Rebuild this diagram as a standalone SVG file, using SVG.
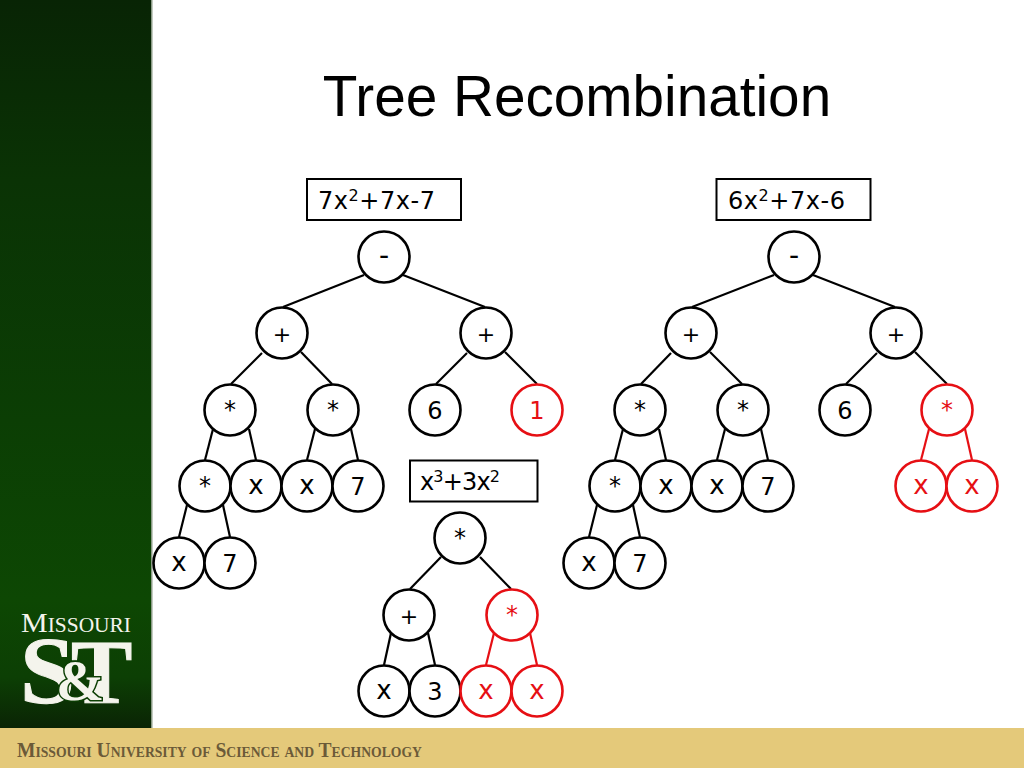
<svg xmlns="http://www.w3.org/2000/svg" width="1024" height="768" viewBox="0 0 1024 768">
<style>
.n circle{fill:#fff;stroke:#000;stroke-width:2.6}
.n text{font:24px "DejaVu Sans",sans-serif;text-anchor:middle;fill:#000}
.n text.v{font-size:26px}
.n text.p{font-size:22px}
.n text.m{font-size:28px}
.r circle{stroke:#e60f14}
.r text{fill:#e60f14}
.c line{stroke:#000;stroke-width:2.2}
.c line.r{stroke:#e60f14}
.b rect{fill:#fff;stroke:#000;stroke-width:2}
.b text{font:24px "DejaVu Sans",sans-serif;fill:#000}
.b tspan{font-size:16px}
.l{font-family:"Liberation Serif",serif;fill:#f4f4ec}
.lb{stroke:#f4f4ec;stroke-width:1}
</style>
<defs>
<linearGradient id="g" x1="0" y1="0" x2="0" y2="1">
<stop offset="0" stop-color="#082405"/><stop offset=".3" stop-color="#0a3305"/><stop offset=".7" stop-color="#0b3e04"/><stop offset="1" stop-color="#0d4703"/>
</linearGradient>
<linearGradient id="f" x1="0" y1="0" x2="0" y2="1">
<stop offset="0" stop-color="#0d4703"/><stop offset=".6" stop-color="#0c3f04"/><stop offset="1" stop-color="#0a2405"/>
</linearGradient>
</defs>
<rect width="1024" height="768" fill="#fff"/>
<rect width="152" height="600" fill="url(#g)"/>
<rect y="600" width="152" height="128" fill="url(#f)"/>
<rect x="151" width="1.5" height="728" fill="#8a9a85"/>
<rect y="728" width="1024" height="40" fill="#e4c97a"/>
<text class="l" x="21" y="632" font-size="28" textLength="110" lengthAdjust="spacingAndGlyphs" style="font-variant:small-caps">Missouri</text>
<text class="l lb" x="20" y="703" font-size="96" font-weight="700" textLength="55" lengthAdjust="spacingAndGlyphs">S</text>
<text class="l lb" x="71" y="703" font-size="92" font-weight="700">T</text>
<text class="l" x="56" y="700" font-size="58" font-weight="700" stroke="#0c3f04" stroke-width="3" paint-order="stroke">&amp;</text>
<text x="17" y="757" font-family="Liberation Serif,serif" font-weight="700" font-size="20" fill="#6b5a38" textLength="405" lengthAdjust="spacingAndGlyphs" style="font-variant:small-caps">Missouri University of Science and Technology</text>
<text x="577" y="116" font-family="Liberation Sans,sans-serif" font-size="56.7" text-anchor="middle" fill="#000">Tree Recombination</text>
<g id="connectors" class="c">
<line x1="364" y1="275" x2="283" y2="307"/><line x1="403" y1="275" x2="485" y2="307"/>
<line x1="262" y1="353" x2="231" y2="384"/><line x1="301" y1="352" x2="332" y2="384"/>
<line x1="467" y1="353" x2="436" y2="384"/><line x1="505" y1="352" x2="537" y2="384"/>
<line x1="213" y1="429" x2="205" y2="460"/><line x1="249" y1="429" x2="256" y2="460"/>
<line x1="315" y1="429" x2="307" y2="460"/><line x1="351" y1="429" x2="358" y2="460"/>
<line x1="187" y1="505" x2="179" y2="537"/><line x1="223" y1="505" x2="230" y2="537"/>
<line x1="774" y1="275" x2="692" y2="307"/><line x1="813" y1="275" x2="895" y2="307"/>
<line x1="671" y1="353" x2="641" y2="384"/><line x1="710" y1="352" x2="742" y2="384"/>
<line x1="877" y1="353" x2="846" y2="384"/><line x1="915" y1="352" x2="947" y2="384"/>
<line x1="623" y1="429" x2="615" y2="460"/><line x1="659" y1="429" x2="666" y2="460"/>
<line x1="725" y1="429" x2="717" y2="460"/><line x1="761" y1="429" x2="768" y2="460"/>
<line x1="597" y1="505" x2="589" y2="537"/><line x1="633" y1="505" x2="640" y2="537"/>
<line class="r" x1="929" y1="429" x2="921" y2="460"/><line class="r" x1="965" y1="429" x2="972" y2="460"/>
<line x1="441" y1="557" x2="410" y2="589"/><line x1="480" y1="557" x2="511" y2="589"/>
<line x1="391" y1="633" x2="384" y2="665"/><line x1="428" y1="633" x2="435" y2="665"/>
<line class="r" x1="494" y1="633" x2="486" y2="665"/><line class="r" x1="530" y1="633" x2="537" y2="665"/>
</g>
<g id="box1" class="b"><rect x="307" y="179" width="154" height="41"/><text x="318" y="209" textLength="117">7x<tspan dy="-8">2</tspan><tspan dy="8" style="font-size:24px">+7x-7</tspan></text></g>
<g id="box2" class="b"><rect x="716.5" y="179" width="154" height="41"/><text x="728" y="209" textLength="117">6x<tspan dy="-8">2</tspan><tspan dy="8" style="font-size:24px">+7x-6</tspan></text></g>
<g id="box3" class="b"><rect x="410" y="460.5" width="127.5" height="41"/><text x="420" y="490" textLength="80">x<tspan dy="-8">3</tspan><tspan dy="8" style="font-size:24px">+3x</tspan><tspan dy="-8">2</tspan></text></g>
<g id="a1" class="n"><circle cx="384" cy="257" r="25.5"/><text class="m" x="384" y="264.5">-</text></g>
<g id="a2" class="n"><circle cx="282" cy="333" r="25.5"/><text class="p" x="282" y="342">+</text></g>
<g id="a3" class="n"><circle cx="486" cy="333" r="25.5"/><text class="p" x="486" y="342">+</text></g>
<g id="a4" class="n"><circle cx="230" cy="410" r="25.5"/><text x="230" y="418">*</text></g>
<g id="a5" class="n"><circle cx="333" cy="410" r="25.5"/><text x="333" y="418">*</text></g>
<g id="a6" class="n"><circle cx="435" cy="410" r="25.5"/><text x="435" y="419">6</text></g>
<g id="a7" class="n r"><circle cx="537" cy="410" r="25.5"/><text x="537" y="419">1</text></g>
<g id="a8" class="n"><circle cx="205" cy="486" r="25.5"/><text x="205" y="494">*</text></g>
<g id="a9" class="n"><circle cx="256" cy="486" r="25.5"/><text class="v" x="256" y="494">x</text></g>
<g id="a10" class="n"><circle cx="307" cy="486" r="25.5"/><text class="v" x="307" y="494">x</text></g>
<g id="a11" class="n"><circle cx="358" cy="486" r="25.5"/><text x="358" y="495">7</text></g>
<g id="a12" class="n"><circle cx="179" cy="563" r="25.5"/><text class="v" x="179" y="571">x</text></g>
<g id="a13" class="n"><circle cx="230" cy="563" r="25.5"/><text x="230" y="572">7</text></g>
<g id="b1" class="n"><circle cx="794" cy="257" r="25.5"/><text class="m" x="794" y="264.5">-</text></g>
<g id="b2" class="n"><circle cx="691" cy="333" r="25.5"/><text class="p" x="691" y="342">+</text></g>
<g id="b3" class="n"><circle cx="896" cy="333" r="25.5"/><text class="p" x="896" y="342">+</text></g>
<g id="b4" class="n"><circle cx="640" cy="410" r="25.5"/><text x="640" y="418">*</text></g>
<g id="b5" class="n"><circle cx="743" cy="410" r="25.5"/><text x="743" y="418">*</text></g>
<g id="b6" class="n"><circle cx="845" cy="410" r="25.5"/><text x="845" y="419">6</text></g>
<g id="b7" class="n r"><circle cx="947" cy="410" r="25.5"/><text x="947" y="418">*</text></g>
<g id="b8" class="n"><circle cx="615" cy="486" r="25.5"/><text x="615" y="494">*</text></g>
<g id="b9" class="n"><circle cx="666" cy="486" r="25.5"/><text class="v" x="666" y="494">x</text></g>
<g id="b10" class="n"><circle cx="717" cy="486" r="25.5"/><text class="v" x="717" y="494">x</text></g>
<g id="b11" class="n"><circle cx="768" cy="486" r="25.5"/><text x="768" y="495">7</text></g>
<g id="b12" class="n"><circle cx="589" cy="563" r="25.5"/><text class="v" x="589" y="571">x</text></g>
<g id="b13" class="n"><circle cx="640" cy="563" r="25.5"/><text x="640" y="572">7</text></g>
<g id="b14" class="n r"><circle cx="921" cy="486" r="25.5"/><text class="v" x="921" y="494">x</text></g>
<g id="b15" class="n r"><circle cx="972" cy="486" r="25.5"/><text class="v" x="972" y="494">x</text></g>
<g id="c1" class="n"><circle cx="460" cy="538" r="25.5"/><text x="460" y="546">*</text></g>
<g id="c2" class="n"><circle cx="409" cy="615" r="25.5"/><text class="p" x="409" y="624">+</text></g>
<g id="c3" class="n r"><circle cx="512" cy="615" r="25.5"/><text x="512" y="623">*</text></g>
<g id="c4" class="n"><circle cx="384" cy="691" r="25.5"/><text class="v" x="384" y="699">x</text></g>
<g id="c5" class="n"><circle cx="435" cy="691" r="25.5"/><text x="435" y="700">3</text></g>
<g id="c6" class="n r"><circle cx="486" cy="691" r="25.5"/><text class="v" x="486" y="699">x</text></g>
<g id="c7" class="n r"><circle cx="537" cy="691" r="25.5"/><text class="v" x="537" y="699">x</text></g>
</svg>
